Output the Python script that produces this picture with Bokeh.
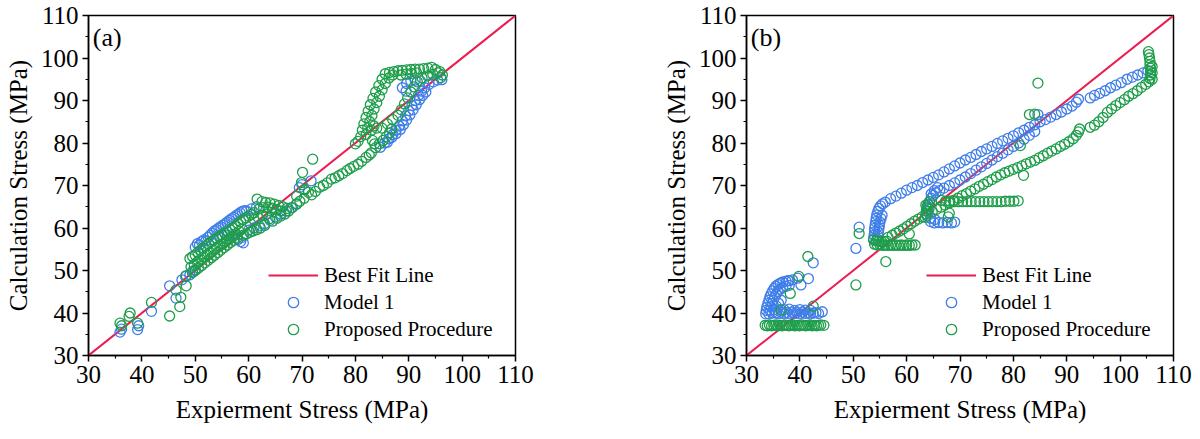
from bokeh.plotting import figure
from bokeh.layouts import row
from bokeh.models import Legend, LegendItem, Label, FixedTicker
from bokeh.embed import file_html
from bokeh.resources import INLINE

# ---------------- data ----------------
axis_ticks = [30, 40, 50, 60, 70, 80, 90, 100, 110]
axis_minor = [35, 45, 55, 65, 75, 85, 95, 105]
fit_x = [30, 110]
fit_y = [30, 110]

# Panel (a) Model 1 (x, y)
a_model1 = [
    (35.9, 35.5), (36.2, 36.2), (39.2, 36.1), (39.4, 37.0), (41.8, 40.4), (45.2, 46.4), (46.4, 43.5),
    (47.5, 47.8), (48.2, 48.6), (49.0, 49.0), (49.5, 49.8), (50.0, 50.2),
    (50.0, 55.5), (50.4, 56.3), (50.8, 56.0), (51.2, 56.8), (51.6, 57.2), (52.0, 57.0), (52.4, 57.8),
    (52.8, 58.3), (53.2, 58.8), (53.6, 59.3), (54.0, 59.6), (54.4, 60.0), (54.8, 60.3), (55.2, 60.7),
    (55.6, 61.0), (56.0, 61.4), (56.4, 61.8), (56.8, 62.2), (57.2, 62.5), (57.6, 62.9), (58.0, 63.2),
    (58.4, 63.6), (58.8, 63.9), (59.2, 64.1), (59.6, 64.0), (60.5, 64.5), (61.5, 65.0),
    (55.0, 57.5), (56.0, 58.2), (57.0, 58.5), (58.0, 57.3), (58.5, 56.8), (59.0, 56.5), (58.8, 57.8),
    (60.0, 59.5), (61.0, 60.0), (62.0, 60.5), (63.0, 61.0), (64.0, 61.8), (65.0, 62.6), (66.0, 63.3),
    (67.0, 64.0), (68.0, 64.8), (69.0, 65.6), (69.5, 69.5), (70.0, 70.2), (71.7, 71.1),
    (84.7, 79.0), (85.5, 80.0), (86.3, 81.0), (87.0, 82.0), (87.6, 83.0), (88.2, 84.0), (88.8, 85.2),
    (89.4, 86.4), (90.0, 87.6), (90.6, 88.8), (91.2, 90.0), (91.8, 91.2), (92.4, 92.2), (93.0, 93.0),
    (93.8, 93.8), (94.6, 94.4), (95.4, 94.8), (96.2, 94.9),
    (86.0, 80.2), (86.8, 81.3), (87.6, 82.2), (88.4, 83.2), (89.0, 84.3), (89.6, 85.4), (90.2, 86.6),
    (90.8, 87.8), (91.4, 89.0), (92.0, 90.2), (92.6, 91.2), (93.2, 92.0),
    (88.8, 93.0), (89.6, 94.0), (90.4, 94.6), (91.2, 94.8), (89.5, 92.2), (92.2, 94.6),
]

# Panel (a) Proposed Procedure (x, y)
a_proposed = [
    (35.9, 37.6), (36.2, 37.0), (37.8, 40.0), (37.6, 39.2), (39.2, 37.6), (41.8, 42.5), (45.2, 39.3),
    (46.4, 45.4), (47.1, 41.5), (47.3, 43.7), (48.3, 46.4), (48.3, 48.8),
    (49.0, 52.8), (49.5, 53.3), (50.0, 53.6), (50.5, 54.3), (51.0, 54.8), (51.5, 55.3), (52.0, 55.8),
    (52.5, 56.3), (53.0, 56.8), (53.5, 57.2), (54.0, 57.6), (54.5, 58.0), (55.0, 58.4), (55.5, 58.8),
    (56.0, 59.2), (56.5, 59.6), (57.0, 60.0), (57.5, 60.4), (58.0, 61.0), (58.5, 61.5), (59.0, 62.0),
    (59.5, 62.4), (60.0, 62.8), (60.5, 63.2), (61.0, 63.6),
    (49.2, 50.8), (49.8, 51.4), (50.4, 52.0), (51.0, 52.6), (51.6, 53.2), (52.2, 53.7), (52.8, 54.2),
    (53.4, 54.8), (54.0, 55.3), (54.6, 55.8), (55.2, 56.3), (55.8, 56.9), (56.4, 57.4), (57.0, 58.0),
    (57.6, 58.6), (58.2, 59.2), (58.8, 59.8),
    (49.5, 49.5), (50.0, 50.0), (50.6, 50.6), (51.2, 51.2), (51.8, 51.8), (52.4, 52.4), (53.0, 53.0),
    (53.6, 53.6), (54.2, 54.2), (54.8, 54.8), (55.4, 55.4), (56.0, 56.0), (56.6, 56.6), (57.2, 57.1),
    (57.8, 57.6),
    (59.0, 58.3), (59.6, 58.6), (60.2, 59.0), (60.8, 59.3), (61.5, 59.6), (62.2, 60.0), (63.0, 60.6),
    (63.9, 62.2), (64.5, 61.6), (65.3, 62.3), (66.0, 62.8), (66.8, 63.3), (67.5, 64.0), (68.2, 64.8),
    (69.0, 65.7), (69.6, 66.3), (70.4, 67.0), (71.2, 68.4), (71.8, 67.8), (72.5, 68.6), (73.3, 69.6),
    (74.0, 70.0), (74.7, 70.6), (75.5, 71.5), (76.2, 71.8), (76.9, 72.3), (77.6, 72.8), (78.4, 73.5),
    (79.0, 74.0), (79.7, 74.5), (80.5, 75.0), (81.2, 75.7), (82.0, 76.6), (82.6, 77.2), (83.0, 77.7),
    (83.8, 78.9), (84.5, 79.8), (85.2, 80.6), (85.8, 81.5), (86.4, 82.4), (86.8, 83.3),
    (61.6, 66.8), (62.5, 66.2), (63.2, 66.0), (64.0, 65.9), (64.8, 65.6), (65.6, 65.3), (66.4, 65.0),
    (67.2, 64.6), (62.0, 64.5), (62.8, 64.8), (63.6, 64.9), (64.4, 64.7), (65.2, 64.3), (66.0, 64.0),
    (61.0, 62.0), (61.8, 62.5), (62.6, 63.0), (63.4, 63.3),
    (69.0, 67.5), (69.9, 70.7), (70.1, 73.1), (72.0, 76.2), (70.5, 69.0),
    (80.0, 79.8), (80.5, 80.4), (81.0, 81.5), (81.3, 83.0), (81.6, 84.5), (82.0, 86.0), (82.4, 87.5),
    (82.8, 89.0), (83.3, 90.5), (83.8, 92.0), (84.4, 93.5), (85.0, 95.0), (85.6, 96.3),
    (82.0, 82.0), (82.3, 83.5), (82.7, 85.0), (83.1, 86.5), (83.5, 88.0), (84.0, 89.5), (84.5, 91.0),
    (85.0, 92.5), (85.6, 94.0), (86.3, 95.3), (87.0, 96.0),
    (86.4, 96.6), (87.2, 96.8), (88.0, 97.0), (88.8, 97.1), (89.6, 97.2), (90.4, 97.3), (91.2, 97.4),
    (92.0, 97.4), (92.8, 97.5), (93.6, 97.6), (94.3, 97.8), (95.0, 97.3), (95.8, 96.8), (96.3, 96.0),
    (96.0, 95.4), (88.5, 96.0), (89.5, 96.2), (90.5, 96.4), (91.5, 96.5),
    (85.0, 83.5), (86.0, 84.5), (87.0, 85.5), (88.0, 86.5), (88.6, 87.8), (89.2, 89.2), (89.8, 90.6),
    (90.4, 92.0), (91.0, 93.2), (91.6, 94.4), (92.5, 95.3), (93.5, 95.8), (94.5, 96.2), (95.5, 96.5),
    (83.0, 83.0), (83.5, 84.0), (84.0, 83.5), (83.6, 79.8), (83.2, 80.6),
]

# Panel (b) Model 1 (x, y)
b_model1 = [
    (33.6, 39.8), (33.7, 40.6), (33.8, 41.4), (34.0, 42.2), (34.2, 43.0), (34.4, 43.8), (34.6, 44.5),
    (34.9, 45.2), (35.2, 45.8), (35.5, 46.3), (35.9, 46.7), (36.3, 47.0), (36.8, 47.3), (37.4, 47.5),
    (38.0, 47.6), (38.6, 47.8),
    (34.2, 39.8), (34.4, 40.6), (34.6, 41.4), (34.8, 42.2), (35.0, 43.0), (35.3, 43.8), (35.6, 44.5),
    (35.9, 45.1), (36.3, 45.6), (36.8, 46.0), (37.4, 46.3), (38.0, 46.5),
    (34.8, 40.0), (35.2, 40.8), (35.6, 41.6), (36.0, 42.3), (36.5, 43.0),
    (35.5, 40.0), (36.0, 39.8), (36.5, 40.2), (37.0, 39.9), (37.5, 40.1), (38.0, 39.8), (38.5, 40.2),
    (39.0, 39.9), (39.5, 40.1), (40.0, 39.8), (40.5, 40.2), (41.0, 39.9), (41.5, 40.1), (42.0, 39.8),
    (42.5, 40.0), (43.0, 40.1), (43.5, 39.9), (44.2, 40.3),
    (37.0, 40.8), (38.0, 40.9), (39.0, 40.6), (40.0, 40.8), (41.0, 40.7), (42.0, 40.6),
    (37.8, 47.6), (39.6, 48.2), (41.6, 48.1), (40.2, 46.6), (42.5, 51.8),
    (50.5, 55.2), (51.1, 60.2),
    (53.8, 57.5), (53.9, 58.3), (54.0, 59.1), (54.0, 59.9), (54.1, 60.7), (54.2, 61.5), (54.3, 62.3),
    (54.4, 63.1), (54.6, 63.9), (54.8, 64.6), (55.1, 65.2), (55.5, 65.7), (56.0, 66.1),
    (54.5, 57.4), (54.6, 58.2), (54.7, 59.0), (54.8, 59.8), (54.9, 60.6), (55.0, 61.4), (55.2, 62.2),
    (55.4, 63.0),
    (57.0, 66.9), (58.0, 67.5), (59.0, 68.2), (60.0, 68.9), (61.0, 69.5), (62.0, 70.0), (63.0, 70.7),
    (64.0, 71.3), (65.0, 71.9), (66.0, 72.5), (67.0, 73.2), (68.0, 73.9), (69.0, 74.6), (70.0, 75.3),
    (71.0, 76.0), (72.0, 76.6), (73.0, 77.3), (74.0, 78.0), (75.0, 78.6), (76.0, 79.2), (77.0, 79.9),
    (78.0, 80.5), (79.0, 81.1), (80.0, 81.7), (81.0, 82.4), (82.0, 83.0), (83.0, 83.7), (84.0, 84.3),
    (85.0, 85.0), (86.0, 85.5), (87.0, 86.1), (88.0, 86.7), (89.0, 87.3), (90.0, 88.0), (91.0, 88.7),
    (91.8, 89.6), (92.2, 90.3), (94.4, 90.6), (95.2, 91.2), (96.2, 91.7), (97.2, 92.3), (98.2, 93.0),
    (99.2, 93.6), (100.2, 94.2), (101.3, 95.0), (102.3, 95.5), (103.3, 96.0), (104.3, 96.5), (105.2, 97.0),
    (63.8, 63.0), (63.9, 63.8), (64.0, 64.6), (64.1, 65.4), (64.3, 66.2), (64.6, 67.0), (65.0, 67.7),
    (65.5, 68.3), (64.6, 68.0), (65.2, 68.8), (65.8, 69.5),
    (66.2, 68.8), (67.0, 69.4), (68.0, 70.0), (69.0, 70.6), (70.0, 71.3), (71.0, 72.0), (72.0, 72.8),
    (73.0, 73.6), (74.0, 74.4), (75.0, 75.2), (76.0, 76.0), (77.0, 76.8), (78.0, 77.6), (79.0, 78.4),
    (80.0, 79.2), (81.0, 80.0), (82.0, 80.9), (83.0, 81.8), (84.0, 82.7),
    (64.5, 61.5), (65.2, 61.2), (66.0, 61.3), (66.8, 61.2), (67.6, 61.3), (68.4, 61.2), (69.0, 61.4),
    (64.5, 62.3), (65.3, 62.0), (84.6, 86.7),
]

# Panel (b) Proposed Procedure (x, y)
b_proposed = [
    (33.5, 37.1), (33.9, 37.0), (34.3, 37.2), (34.7, 37.0), (35.1, 37.1), (35.5, 37.2), (35.9, 37.0),
    (36.3, 37.1), (36.7, 37.0), (37.1, 37.2), (37.5, 37.1), (37.9, 37.0), (38.3, 37.1), (38.7, 37.2),
    (39.1, 37.0), (39.5, 37.1), (39.9, 37.0), (40.3, 37.2), (40.7, 37.1), (41.1, 37.0), (41.5, 37.1),
    (41.9, 37.2), (42.3, 37.0), (42.7, 37.1), (43.1, 37.0), (43.5, 37.1), (43.9, 37.2), (44.5, 37.1),
    (36.5, 40.7), (38.2, 44.6), (39.8, 48.6), (41.5, 53.3), (42.5, 41.6),
    (50.5, 46.6), (51.1, 58.7), (56.1, 52.1),
    (54.0, 56.2), (54.5, 56.0), (55.0, 56.1), (55.5, 55.9), (56.0, 56.0), (56.5, 55.9), (57.0, 56.0),
    (57.5, 55.9), (58.0, 56.0), (58.5, 55.9), (59.0, 56.0), (59.5, 55.9), (60.0, 56.0), (60.5, 55.9),
    (61.0, 56.0), (61.6, 56.0),
    (53.8, 57.2), (54.3, 57.0), (54.8, 56.9), (55.3, 56.8), (55.8, 56.8), (56.3, 56.9),
    (56.5, 57.8), (57.3, 58.3), (58.0, 58.8), (58.7, 59.3), (59.4, 59.8), (60.1, 60.4), (60.8, 61.0),
    (61.5, 61.6), (62.2, 62.1), (62.9, 62.6), (60.5, 58.6),
    (63.5, 62.5), (63.6, 63.3), (63.7, 64.1), (63.8, 64.9), (64.0, 65.6), (64.3, 66.2), (63.6, 65.4),
    (64.2, 64.4), (67.8, 62.6), (68.0, 63.5),
    (66.5, 66.5), (67.3, 66.3), (68.1, 66.3), (68.9, 66.2), (69.7, 66.2), (70.5, 66.2), (71.3, 66.2),
    (72.1, 66.2), (72.9, 66.2), (73.7, 66.2), (74.5, 66.2), (75.3, 66.2), (76.1, 66.2), (76.9, 66.2),
    (77.7, 66.2), (78.5, 66.3), (79.3, 66.3), (80.1, 66.3), (80.9, 66.4),
    (64.8, 63.8), (65.6, 64.4), (66.4, 64.9), (67.2, 65.4), (68.0, 65.9), (68.8, 66.5), (69.6, 67.0),
    (70.4, 67.6), (71.2, 68.1), (72.0, 68.7), (72.8, 69.2), (73.6, 69.8), (74.4, 70.3), (75.2, 70.9),
    (76.0, 71.4), (76.8, 72.0), (77.6, 72.5), (78.4, 73.0), (79.2, 73.4), (80.0, 73.8), (80.8, 74.2),
    (81.6, 74.6), (82.4, 75.1), (83.2, 75.5), (84.0, 75.9), (84.8, 76.5), (85.6, 77.0), (86.4, 77.6),
    (87.2, 78.1), (88.0, 78.6), (88.8, 79.2), (89.6, 79.7), (90.4, 80.3), (91.2, 81.0), (91.8, 81.8),
    (92.2, 82.6), (92.4, 83.3),
    (94.4, 83.7), (95.2, 84.2), (96.0, 85.0), (96.8, 86.0), (97.6, 87.2), (98.4, 88.0), (99.2, 88.8),
    (100.0, 89.5), (100.8, 90.2), (101.6, 91.0), (102.4, 91.6), (103.2, 92.3), (104.0, 93.1),
    (104.8, 93.8), (105.4, 94.4),
    (105.6, 95.2), (105.7, 96.0), (105.7, 96.8), (105.7, 97.6), (105.6, 98.4), (105.6, 99.2),
    (105.5, 100.0), (105.4, 100.8), (105.3, 101.5), (106.0, 95.0), (106.0, 96.5), (106.0, 98.0),
    (84.6, 94.1), (83.0, 86.7), (84.0, 86.8), (81.3, 79.4), (81.9, 72.4),
]

# ---------------- style ----------------
FONT = "'Liberation Serif', 'Times New Roman', serif"
RED = "#EC1C50"
BLUE = "#3F7EE8"
GREEN = "#1E9E4A"


def make_panel(tag, model1, proposed, border_left, border_right):
    p = figure(frame_width=427, frame_height=340, x_range=(30, 110), y_range=(30, 110),
               output_backend="svg", toolbar_location=None,
               min_border_left=border_left, min_border_right=border_right,
               min_border_top=15, min_border_bottom=84,
               background_fill_color="white", border_fill_color="white")
    p.grid.visible = False
    p.outline_line_color = "black"
    p.outline_line_width = 1.5

    for ax in (p.xaxis[0], p.yaxis[0]):
        ax.ticker = FixedTicker(ticks=axis_ticks, minor_ticks=axis_minor)
        ax.axis_line_color = "black"
        ax.axis_line_width = 1.5
        ax.major_tick_line_color = "black"
        ax.major_tick_line_width = 1.5
        ax.minor_tick_line_color = "black"
        ax.minor_tick_line_width = 1.2
        ax.major_tick_in = 0
        ax.major_tick_out = 6
        ax.minor_tick_in = 0
        ax.minor_tick_out = 3
        ax.major_label_text_font = FONT
        ax.major_label_text_font_size = "25px"
        ax.major_label_text_color = "black"
        ax.axis_label_text_font = FONT
        ax.axis_label_text_font_size = "25px"
        ax.axis_label_text_font_style = "normal"
        ax.axis_label_text_color = "black"
    p.xaxis.axis_label = "Expierment Stress (MPa)"
    p.yaxis.axis_label = "Calculation Stress (MPa)"
    p.xaxis.major_label_standoff = 4
    p.xaxis.axis_label_standoff = 10
    p.yaxis.major_label_standoff = 4
    p.yaxis.axis_label_standoff = 6

    fit = p.line(fit_x, fit_y, line_color=RED, line_width=2)
    m1 = p.scatter([v[0] for v in model1], [v[1] for v in model1], marker="circle", size=10,
                   fill_color=None, line_color=BLUE, line_width=1.3)
    pp = p.scatter([v[0] for v in proposed], [v[1] for v in proposed], marker="circle", size=10,
                   fill_color=None, line_color=GREEN, line_width=1.3)

    legend = Legend(items=[
        LegendItem(label="Best Fit Line", renderers=[fit]),
        LegendItem(label="Model 1", renderers=[m1]),
        LegendItem(label="Proposed Procedure", renderers=[pp]),
    ], location=(180, 13))
    legend.border_line_color = None
    legend.background_fill_alpha = 0
    legend.padding = 0
    legend.margin = 0
    legend.spacing = 1
    legend.glyph_width = 50
    legend.glyph_height = 26
    legend.label_height = 26
    legend.label_standoff = 6
    legend.label_text_font = FONT
    legend.label_text_font_size = "21px"
    legend.label_text_color = "black"
    p.add_layout(legend)

    p.add_layout(Label(x=30.8, y=104.8, text=tag, text_baseline="middle", text_align="left",
                       text_font=FONT, text_font_size="26px", text_color="black"))
    return p


p1 = make_panel("(a)", a_model1, a_proposed, 88, 85)
p2 = make_panel("(b)", b_model1, b_proposed, 146, 27)

layout = row(p1, p2)
open("out.html", "w").write(file_html(layout, INLINE))
